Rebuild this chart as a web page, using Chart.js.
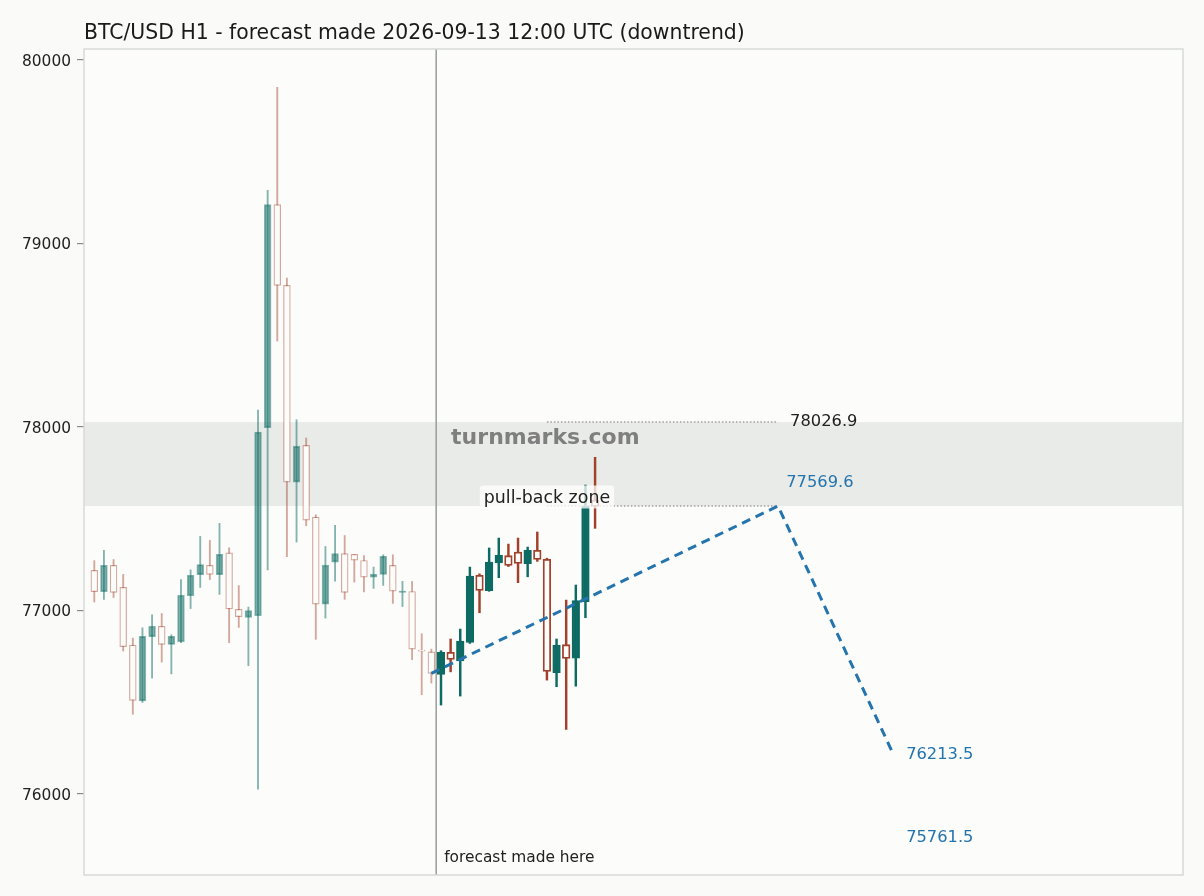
<!DOCTYPE html>
<html>
<head>
<meta charset="utf-8">
<script src="https://cdn.jsdelivr.net/npm/chart.js@4.4.1/dist/chart.umd.min.js"></script>
<style>
  html, body { margin: 0; padding: 0; background: #fafaf8; }
  #wrap { width: 1204px; height: 896px; }
</style>
</head>
<body>
<div id="wrap"><canvas id="chart"></canvas></div>
<script>
const TITLE = "BTC/USD H1 - forecast made 2026-09-13 12:00 UTC (downtrend)";

// hourly candles, index 0..52; the first HIST_COUNT are before the forecast point
const opens = [
  77219, 77103, 77246, 77126, 76812, 76507, 76858, 76914, 76815, 76829,
  77081, 77195, 77246, 77195, 77314, 77006, 76963, 76972, 77996, 79212,
  78772, 77700, 77900, 77509, 77035, 77264, 77310, 77306, 77273, 77182,
  77197, 77246, 77099, 77104, 76783, 76775,
  76652, 76772, 76726, 76827, 77192, 77108, 77260, 77299, 77319, 77255,
  77328, 77279, 76661, 76814, 76741, 77048, 77602
];
const highs = [
  77272, 77328, 77278, 77197, 76850, 76906, 76977, 76984, 76868, 77169,
  77222, 77404, 77383, 77475, 77342, 77136, 77019, 78093, 79290, 79851,
  78812, 78040, 77940, 77522, 77349, 77464, 77409, 77306, 77300, 77237,
  77304, 77304, 77159, 77159, 76874, 76790,
  76781, 76845, 76899, 77237, 77200, 77341, 77395, 77362, 77395, 77346,
  77428, 77285, 76845, 77057, 77139, 77684, 77835
];
const lows = [
  77047, 77060, 77071, 76779, 76435, 76499, 76632, 76719, 76655, 76825,
  77011, 77126, 77169, 77088, 76825, 76908, 76700, 76027, 77222, 78468,
  77293, 77373, 77462, 76843, 76959, 77160, 77061, 77155, 77102, 77121,
  77137, 77039, 77022, 76732, 76541, 76605,
  76485, 76666, 76534, 76821, 76988, 77105, 77179, 77240, 77152, 77184,
  77268, 76621, 76585, 76352, 76588, 76961, 77448
];
const closes = [
  77103, 77246, 77099, 76803, 76510, 76859, 76914, 76816, 76859, 77083,
  77192, 77251, 77197, 77306, 77009, 76967, 77000, 77973, 79212, 78772,
  77700, 77896, 77493, 77035, 77248, 77310, 77099, 77275, 77182, 77197,
  77295, 77106, 77106, 76790, 76779, 76658,
  76772, 76734, 76834, 77188, 77110, 77264, 77302, 77246, 77257, 77328,
  77279, 76668, 76812, 76739, 77055, 77571, 77567
];
const HIST_COUNT = 36;

const forecastX = [35, 71, 83];
const forecastY = [76658, 77569.6, 76213.5];
const forecastAt = 35.5;
const zoneTop = 78026.9;
const zoneBottom = 77569.6;
const targetLow = 75761.5;
const yTicks = [76000, 77000, 78000, 79000, 80000];

const X_MIN = -1.07, X_MAX = 113.05;
const Y_MIN = 75559, Y_MAX = 80060;

const TEAL = "#0d6b63";
const RED = "#a2412b";
const TEAL_FADED = "rgba(13,107,99,0.5)";
const RED_FADED = "rgba(162,65,43,0.45)";
const PLOT_BG = "#fcfcfa";
const BLUE = "#2474ad";
const FONT = "DejaVu Sans";

Chart.defaults.font.family = FONT;

function candleSet(from, to, faded, wick) {
  const data = [], bg = [], border = [];
  for (let i = from; i < to; i++) {
    const up = closes[i] >= opens[i];
    const col = up ? (faded ? TEAL_FADED : TEAL) : (faded ? RED_FADED : RED);
    data.push({ x: i, y: wick ? [lows[i], highs[i]] : [opens[i], closes[i]] });
    border.push(col);
    bg.push(wick || up ? col : PLOT_BG);
  }
  return { data, bg, border };
}

function barDataset(from, to, faded, wick) {
  const s = candleSet(from, to, faded, wick);
  return {
    type: "bar",
    data: s.data,
    backgroundColor: s.bg,
    borderColor: s.border,
    borderWidth: wick ? 0 : (faded ? 1.2 : 1.8),
    borderSkipped: false,
    barThickness: wick ? (faded ? 1.2 : 1.8) : (faded ? 6.8 : 7.6),
    minBarLength: 1,
    grouped: false,
    order: wick ? 3 : 2,
  };
}

function lineDataset(xs, ys, color, width, dash, order) {
  return {
    type: "line",
    data: xs.map((x, i) => ({ x: x, y: ys[i] })),
    borderColor: color,
    borderWidth: width,
    borderDash: dash,
    pointRadius: 0,
    fill: false,
    tension: 0,
    order: order,
  };
}

const overlay = {
  id: "overlay",
  beforeDraw(chart) {
    const { ctx, chartArea: a } = chart;
    ctx.save();
    ctx.fillStyle = "#fafaf8";
    ctx.fillRect(0, 0, chart.width, chart.height);
    ctx.fillStyle = PLOT_BG;
    ctx.fillRect(a.left, a.top, a.right - a.left, a.bottom - a.top);
    ctx.restore();
  },
  beforeDatasetsDraw(chart) {
    const { ctx, chartArea: a, scales: { y } } = chart;
    const top = y.getPixelForValue(zoneTop);
    const bottom = y.getPixelForValue(zoneBottom);
    ctx.save();
    ctx.fillStyle = "#e9ebe8";
    ctx.fillRect(a.left, top, a.right - a.left, bottom - top);
    ctx.restore();
  },
  afterDatasetsDraw(chart) {
    const { ctx, chartArea: a, scales: { x, y } } = chart;
    ctx.save();
    ctx.textBaseline = "middle";
    ctx.textAlign = "left";

    // watermark
    ctx.font = "bold 22px " + FONT;
    ctx.fillStyle = "#7f7f7f";
    ctx.fillText("turnmarks.com", x.getPixelForValue(37.05), y.getPixelForValue(zoneTop) + 16);

    // level labels
    ctx.font = "16.3px " + FONT;
    ctx.fillStyle = "#222222";
    ctx.fillText(zoneTop.toFixed(1), x.getPixelForValue(72.25), y.getPixelForValue(zoneTop));
    ctx.fillStyle = BLUE;
    ctx.fillText(zoneBottom.toFixed(1), x.getPixelForValue(71.85), y.getPixelForValue(zoneBottom) - 23);
    ctx.fillText(forecastY[2].toFixed(1), x.getPixelForValue(84.3), y.getPixelForValue(forecastY[2]));
    ctx.fillText(targetLow.toFixed(1), x.getPixelForValue(84.3), y.getPixelForValue(targetLow));

    // pull-back zone tag
    const label = "pull-back zone";
    ctx.font = "17.4px " + FONT;
    const cx = x.getPixelForValue(47.0);
    const cy = y.getPixelForValue(zoneBottom) - 9;
    const w = ctx.measureText(label).width + 8;
    ctx.fillStyle = "rgba(255,255,255,0.75)";
    ctx.beginPath();
    ctx.roundRect(cx - w / 2, cy - 11.5, w, 23, 3);
    ctx.fill();
    ctx.fillStyle = "#222222";
    ctx.textAlign = "center";
    ctx.fillText(label, cx, cy + 1);

    // forecast marker text
    ctx.textAlign = "left";
    ctx.font = "15.4px " + FONT;
    ctx.fillText("forecast made here", x.getPixelForValue(forecastAt) + 8, a.bottom - 17);
    ctx.restore();
  },
  afterDraw(chart) {
    const { ctx, chartArea: a, scales: { y } } = chart;
    ctx.save();
    ctx.strokeStyle = "#d6dad6";
    ctx.lineWidth = 1.5;
    ctx.strokeRect(a.left, a.top, a.right - a.left, a.bottom - a.top);

    // y tick labels, centred on the digits rather than the em box
    ctx.fillStyle = "#222222";
    ctx.font = "15.4px " + FONT;
    ctx.textAlign = "right";
    ctx.textBaseline = "alphabetic";
    yTicks.forEach((v) => {
      ctx.fillText(String(v), a.left - 13, y.getPixelForValue(v) + 5.6);
    });

    ctx.fillStyle = "#1a1a1a";
    ctx.font = "20.4px " + FONT;
    ctx.textBaseline = "middle";
    ctx.textAlign = "left";
    ctx.fillText(TITLE, a.left, 33.5);
    ctx.restore();
  },
};

new Chart(document.getElementById("chart"), {
  type: "bar",
  data: {
    datasets: [
      lineDataset([forecastAt, forecastAt], [Y_MIN, Y_MAX], "#9a9c9a", 1.5, [], 4),
      barDataset(0, HIST_COUNT, true, true),
      barDataset(0, HIST_COUNT, true, false),
      barDataset(HIST_COUNT, opens.length, false, true),
      barDataset(HIST_COUNT, opens.length, false, false),
      lineDataset([47, 71], [zoneTop, zoneTop], "#9f9f9f", 1.5, [1.5, 2], 1),
      lineDataset([47, 71], [zoneBottom, zoneBottom], "#9f9f9f", 1.5, [1.5, 2], 1),
      lineDataset(forecastX, forecastY, BLUE, 3, [9, 6], 0),
    ],
  },
  options: {
    responsive: true,
    maintainAspectRatio: false,
    animation: false,
    events: [],
    layout: { padding: { left: 0, top: 49, right: 21, bottom: 21 } },
    plugins: {
      legend: { display: false },
      title: { display: false },
      tooltip: { enabled: false },
    },
    scales: {
      x: {
        type: "linear",
        min: X_MIN,
        max: X_MAX,
        offset: false,
        display: false,
      },
      y: {
        type: "linear",
        min: Y_MIN,
        max: Y_MAX,
        afterFit: (s) => { s.width = 84; },
        afterBuildTicks: (s) => { s.ticks = yTicks.map((v) => ({ value: v })); },
        border: { display: false },
        grid: {
          drawOnChartArea: false,
          drawTicks: true,
          tickLength: 7,
          color: "#8a8a8a",
          lineWidth: 1.2,
        },
        ticks: { display: false },
      },
    },
  },
  plugins: [overlay],
});
</script>
</body>
</html>
